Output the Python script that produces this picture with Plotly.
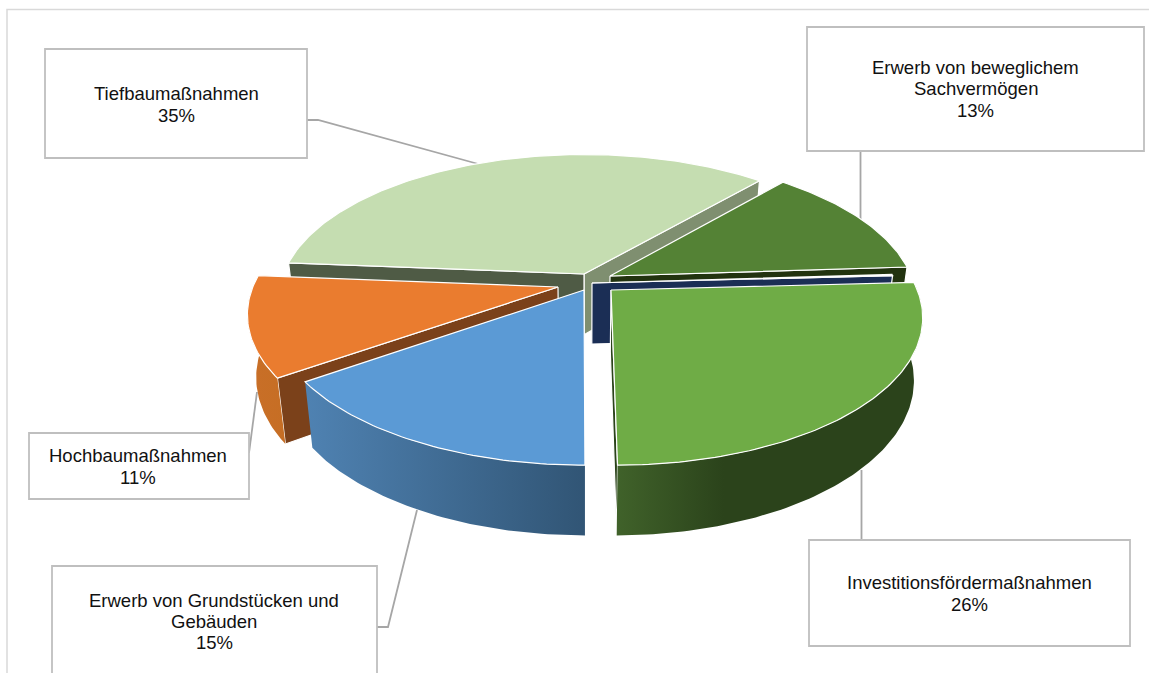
import numpy as np
import plotly.graph_objects as go

# ---- data ----
categories = ["Investitionsfördermaßnahmen", "Erwerb von Grundstücken und Gebäuden", "Hochbaumaßnahmen",
              "Tiefbaumaßnahmen", "Erwerb von beweglichem Sachvermögen", "Sonstige"]
values = [25.9, 15.45, 11.0, 35.3, 12.6, 0.2]

# ---- styles ----
top_colors = ["#6FAC46", "#5B9AD5", "#EA7C2F", "#C5DDB1", "#548235", "#1B2E55"]
rim_colors = [
    [[0, "#40622A"], [0.35, "#2B431B"], [1, "#2B431B"]],
    [[0, "#4F82B2"], [1, "#315575"]],
    [[0, "#C96F28"], [1, "#C66E24"]],
    [[0, "#4F5B45"], [1, "#4F5B45"]],
    [[0, "#22330F"], [1, "#22330F"]],
    [[0, "#1B2E55"], [1, "#1B2E55"]],
]
start_face = ["#2B431B", "#315575", "#7B411A", "#4F5B45", "#22330F", "#1B2E55"]
end_face = ["#2B431B", "#315575", "#7B411A", "#7F8F70", "#22330F", "#1B2E55"]
apex_px = [(611, 290), (584, 290), (558, 287), (584, 274), (610, 276), (592, 283)]
paint_order = [3, 4, 5, 2, 1, 0]

# ---- projection of the exploded disc ----
CX, CY, RX, RY, PERSP = 585.0, 281.0, 303.0, 142.0, 0.17
DEPTH, BOT_X, BOT_Y = 61.0, 0.974, 1.05
START_DEG = 87.0


def project(u, v):
    s = 1 / (1 - PERSP * v)
    return CX + RX * u * s, CY + RY * v * s


def lower(x, y):
    return CX + (x - CX) * BOT_X, CY + (y - CY) * BOT_Y + DEPTH


def apex_world(ax, ay):
    dy = ay - CY
    v = dy / (RY + PERSP * dy)
    s = 1 / (1 - PERSP * v)
    return (ax - CX) / (RX * s), v


fig = go.Figure()


def poly(xs, ys, name, color=None, gradient=None, line=None):
    kw = dict(x=list(xs), y=list(ys), mode="lines", fill="toself", name=name, hoverinfo="name",
              showlegend=False, line=dict(color=line or "rgba(0,0,0,0)", width=1.2 if line else 0))
    if gradient:
        kw["fillgradient"] = dict(type="horizontal", colorscale=gradient)
    else:
        kw["fillcolor"] = color
    fig.add_trace(go.Scatter(**kw))


total = sum(values)
edges = START_DEG + np.concatenate([[0], np.cumsum(values)]) * 360 / total

for i in paint_order:
    a, b = np.radians(edges[i]), np.radians(edges[i + 1])
    t = np.linspace(a, b, max(4, int((b - a) * 60)))
    au, av = apex_world(*apex_px[i])
    ax, ay = project(au, av)
    bx, by = lower(ax, ay)
    arc_x, arc_y = project(au + np.sin(t), av - np.cos(t))
    low_x, low_y = lower(arc_x, arc_y)
    # radial faces, only those turned towards the viewer
    if np.sin(b) > 0:
        poly([ax, arc_x[-1], low_x[-1], bx, ax], [ay, arc_y[-1], low_y[-1], by, ay], categories[i], end_face[i], line="#FFFFFF")
    if np.sin(a) < 0:
        poly([ax, arc_x[0], low_x[0], bx, ax], [ay, arc_y[0], low_y[0], by, ay], categories[i], start_face[i], line="#FFFFFF")
    # outer rim, only the front half of the circle
    front = -np.cos(t) > -0.02
    if front.sum() > 1:
        rx, ry, lx, ly = arc_x[front], arc_y[front], low_x[front], low_y[front]
        poly(np.r_[rx, lx[::-1], rx[0]], np.r_[ry, ly[::-1], ry[0]], categories[i], gradient=rim_colors[i])
    # top
    poly(np.r_[ax, arc_x, ax], np.r_[ay, arc_y, ay], categories[i], top_colors[i], line="#FFFFFF")

# ---- callouts ----
pct = [f"{round(v)}%" for v in values]
label_lines = [
    ["Tiefbaumaßnahmen", pct[3]],
    ["Erwerb von beweglichem", "Sachvermögen", pct[4]],
    ["Investitionsfördermaßnahmen", pct[0]],
    ["Hochbaumaßnahmen", pct[2]],
    ["Erwerb von Grundstücken und", "Gebäuden", pct[1]],
]
boxes = [(45, 49, 307, 158), (807, 27, 1144, 151), (809, 540, 1130, 646), (29, 433, 249, 499), (52, 566, 377, 700)]
text_x = [176, 975.5, 969, 138, 214]
text_y = [[93, 115], [67, 88, 110], [582, 604], [455, 477], [600, 621, 642]]
leaders = [
    [(307, 120), (318, 120), (482, 165)],
    [(860.5, 151), (860.5, 220)],
    [(861.5, 470), (861.5, 540)],
    [(249, 453), (257, 392)],
    [(377, 627), (388, 627), (417, 510)],
]

shapes = [
    dict(type="path", path="M 7 700 L 7 9.5 L 1160 9.5", line=dict(color="#D9D9D9", width=1.5), layer="below"),
]
for pts in leaders:
    path = "M " + " L ".join(f"{x} {y}" for x, y in pts)
    shapes.append(dict(type="path", path=path, line=dict(color="#A6A6A6", width=1.8), layer="below"))
for x0, y0, x1, y1 in boxes:
    shapes.append(dict(type="rect", x0=x0, y0=y0, x1=x1, y1=y1, fillcolor="#FFFFFF",
                       line=dict(color="#BFBFBF", width=1.8), layer="above"))

annotations = []
for lines, x, ys in zip(label_lines, text_x, text_y):
    for line, y in zip(lines, ys):
        annotations.append(dict(x=x, y=y, text=line, showarrow=False, xanchor="center", yanchor="middle",
                                font=dict(family="Liberation Sans, Arial, sans-serif", size=18.5, color="#111111")))

fig.update_layout(
    width=1149, height=673, margin=dict(l=0, r=0, t=0, b=0),
    paper_bgcolor="#FFFFFF", plot_bgcolor="#FFFFFF", showlegend=False,
    xaxis=dict(range=[0, 1149], visible=False, fixedrange=True),
    yaxis=dict(range=[673, 0], visible=False, fixedrange=True),
    shapes=shapes, annotations=annotations,
)
fig.write_html("out.html", config={"displayModeBar": False},
               post_script="document.body.style.margin='0';document.body.style.overflow='hidden';")
